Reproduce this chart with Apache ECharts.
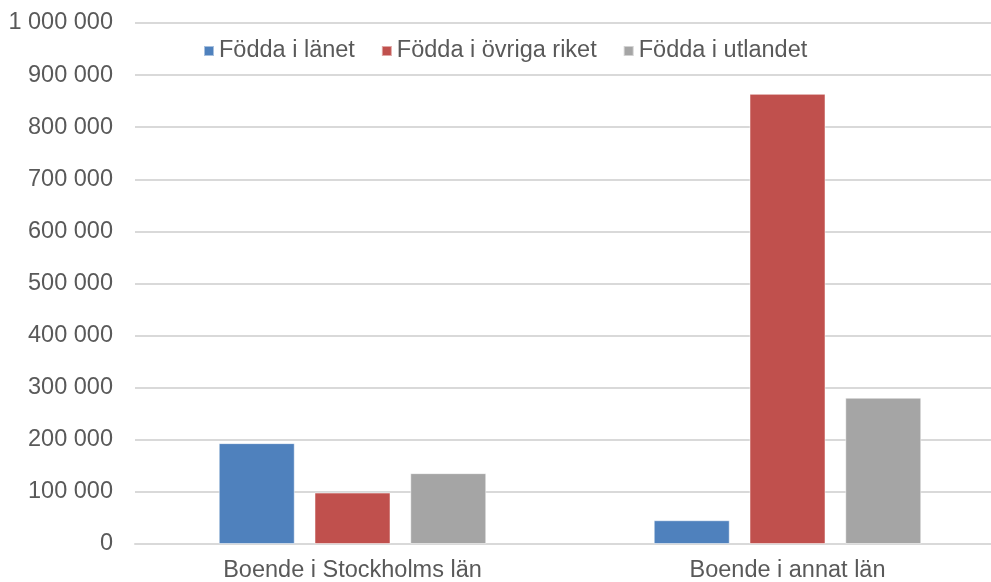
<!DOCTYPE html>
<html>
<head>
<meta charset="utf-8">
<script src="https://cdn.jsdelivr.net/npm/echarts@6/dist/echarts.min.js"></script>
<style>
  html, body { margin: 0; padding: 0; background: #fff; }
  #chart { width: 991px; height: 582px; }
</style>
</head>
<body>
<div id="chart"></div>
<script>
// data
const categories = ['Boende i Stockholms län', 'Boende i annat län'];
const seriesNames = ['Födda i länet', 'Födda i övriga riket', 'Födda i utlandet'];
const foddaILanet = [193600, 45600];
const foddaIOvrigaRiket = [98700, 864000];
const foddaIUtlandet = [136000, 280800];
const colors = ['#4F81BD', '#C0504D', '#A5A5A5'];

function fmt(v) {
    return String(v).replace(/\B(?=(\d{3})+(?!\d))/g, ' ');
}

const chart = echarts.init(document.getElementById('chart'));
const values = [foddaILanet, foddaIOvrigaRiket, foddaIUtlandet];

chart.setOption({
    animation: false,
    textStyle: { fontFamily: 'Liberation Sans, Arial, sans-serif' },
    legend: {
        data: seriesNames,
        left: 198,
        top: 34,
        itemWidth: 10,
        itemHeight: 10,
        itemGap: 26,
        icon: 'rect',
        textStyle: { fontSize: 23.5, color: '#595959' }
    },
    // plot area runs past the right edge in the original
    grid: {
        left: 135,
        width: 870,
        top: 23,
        bottom: 38,
        containLabel: false,
        outerBoundsMode: 'none'
    },
    xAxis: {
        type: 'category',
        data: categories,
        axisLine: { lineStyle: { color: '#D9D9D9', width: 2 } },
        axisTick: { show: false },
        axisLabel: { fontSize: 23.5, color: '#595959', margin: 15 }
    },
    yAxis: {
        type: 'value',
        min: 0,
        max: 1000000,
        interval: 100000,
        axisLine: { show: false },
        axisTick: { show: false },
        splitLine: { lineStyle: { color: '#D9D9D9', width: 2 } },
        axisLabel: {
            fontSize: 23.5,
            color: '#595959',
            margin: 22,
            formatter: fmt
        }
    },
    series: seriesNames.map(function (name, i) {
        return {
            name: name,
            type: 'bar',
            data: values[i],
            barWidth: 76,
            barGap: '26%',
            itemStyle: { color: colors[i], borderColor: 'rgba(255,255,255,0.5)', borderWidth: 1 }
        };
    })
});
</script>
</body>
</html>
